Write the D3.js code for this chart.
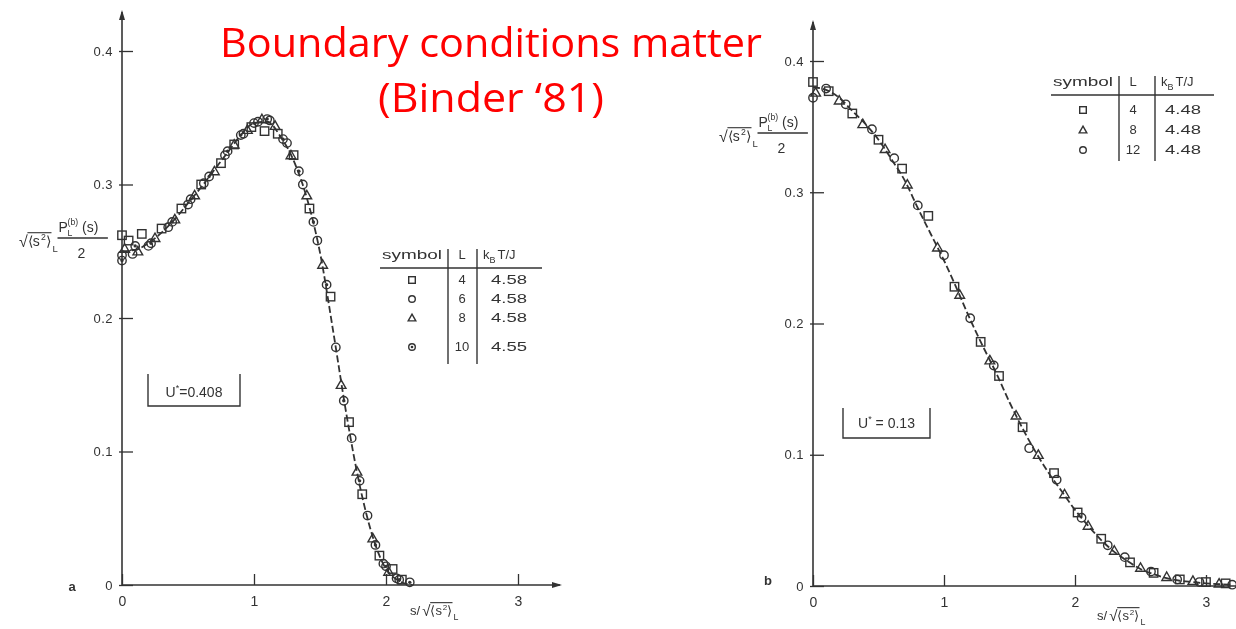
<!DOCTYPE html>
<html>
<head>
<meta charset="utf-8">
<script src="https://cdn.jsdelivr.net/npm/d3@7/dist/d3.min.js"></script>
<style>
  html, body { margin: 0; padding: 0; background: #fff; }
  svg { display: block; }
  .fig text { font-family: "Liberation Sans Narrow", "Liberation Sans", Arial, sans-serif; fill: #333; }
</style>
</head>
<body>
<script>
// ---------- data ----------
const xTicks = [0, 1, 2, 3];
const yTicks = [0, 0.1, 0.2, 0.3, 0.4];

// panel a: U* = 0.408 (kT/J near 4.58)
const curveA_s = [0, 0.1, 0.2, 0.3, 0.4, 0.5, 0.6, 0.7, 0.8, 0.9, 1.0, 1.1, 1.2, 1.3, 1.4, 1.5, 1.6, 1.7, 1.8, 1.9, 2.0, 2.1, 2.2];
const curveA_p = [0.250, 0.251, 0.256, 0.264, 0.274, 0.286, 0.298, 0.311, 0.324, 0.337, 0.346, 0.347, 0.336, 0.318, 0.290, 0.249, 0.190, 0.128, 0.075, 0.036, 0.012, 0.003, 0.000];

const a_L4 = [[0.0,0.262],[0.05,0.258],[0.15,0.263],[0.3,0.267],[0.45,0.282],[0.6,0.300],[0.75,0.316],[0.85,0.330],[0.98,0.343],[1.08,0.340],[1.18,0.338],[1.3,0.322],[1.42,0.282],[1.58,0.216],[1.72,0.122],[1.82,0.068],[1.95,0.022],[2.05,0.012],[2.12,0.004]];
const a_L6 = [[0.0,0.247],[0.08,0.248],[0.2,0.254],[0.35,0.268],[0.5,0.285],[0.62,0.301],[0.78,0.322],[0.92,0.338],[1.03,0.347],[1.12,0.348],[1.25,0.331],[1.37,0.300],[1.48,0.258],[1.62,0.178],[1.74,0.110],[1.86,0.052],[1.98,0.016],[2.08,0.005]];
const a_L8 = [[0.02,0.252],[0.12,0.250],[0.25,0.260],[0.4,0.274],[0.55,0.292],[0.7,0.310],[0.85,0.330],[0.95,0.341],[1.06,0.349],[1.16,0.344],[1.28,0.322],[1.4,0.292],[1.52,0.240],[1.66,0.150],[1.78,0.085],[1.9,0.035],[2.02,0.010]];
const a_L10 = [[0.0,0.243],[0.1,0.254],[0.22,0.256],[0.38,0.272],[0.52,0.289],[0.66,0.306],[0.8,0.325],[0.9,0.337],[1.0,0.346],[1.1,0.349],[1.22,0.334],[1.34,0.310],[1.45,0.272],[1.55,0.225],[1.68,0.138],[1.8,0.078],[1.92,0.030],[2.0,0.014],[2.1,0.004],[2.18,0.002]];

// panel b: U* = 0.13 (kT/J = 4.48)
const curveB_s = [0, 0.1, 0.2, 0.3, 0.4, 0.5, 0.6, 0.7, 0.8, 0.9, 1.0, 1.1, 1.2, 1.3, 1.4, 1.5, 1.6, 1.7, 1.8, 1.9, 2.0, 2.1, 2.2, 2.3, 2.4, 2.5, 2.6, 2.7, 2.8, 2.9, 3.0, 3.2];
const curveB_p = [0.380, 0.378, 0.372, 0.362, 0.352, 0.340, 0.325, 0.309, 0.288, 0.268, 0.248, 0.226, 0.203, 0.182, 0.162, 0.140, 0.120, 0.102, 0.086, 0.072, 0.058, 0.046, 0.035, 0.026, 0.019, 0.013, 0.009, 0.006, 0.004, 0.003, 0.002, 0.001];

const b_L4 = [[0.0,0.384],[0.12,0.377],[0.3,0.360],[0.5,0.340],[0.68,0.318],[0.88,0.282],[1.08,0.228],[1.28,0.186],[1.42,0.160],[1.6,0.121],[1.84,0.086],[2.02,0.056],[2.2,0.036],[2.42,0.018],[2.6,0.010],[2.8,0.005],[3.0,0.003],[3.15,0.002]];
const b_L8 = [[0.02,0.376],[0.2,0.370],[0.38,0.352],[0.55,0.333],[0.72,0.306],[0.95,0.258],[1.12,0.222],[1.35,0.172],[1.55,0.130],[1.72,0.100],[1.92,0.070],[2.1,0.046],[2.3,0.027],[2.5,0.014],[2.7,0.007],[2.9,0.004],[3.1,0.002]];
const b_L12 = [[0.0,0.372],[0.1,0.379],[0.25,0.367],[0.45,0.348],[0.62,0.326],[0.8,0.290],[1.0,0.252],[1.2,0.204],[1.38,0.168],[1.65,0.105],[1.86,0.081],[2.05,0.052],[2.25,0.031],[2.38,0.022],[2.58,0.011],[2.78,0.005],[2.95,0.003],[3.2,0.001]];

const legendA = [["square","4","4.58"],["circle","6","4.58"],["triangle","8","4.58"],["dot","10","4.55"]];
const legendB = [["square","4","4.48"],["triangle","8","4.48"],["circle","12","4.48"]];

const titleLines = ["Boundary conditions matter", "(Binder \u201881)"];

// ---------- drawing ----------
const W = 1236, H = 629;
const ink = "#333";
const svg = d3.select("body").append("svg").attr("width", W).attr("height", H);

const defs = svg.append("defs");
defs.append("filter").attr("id", "soft").append("feGaussianBlur").attr("stdDeviation", 0.6);

const fig = svg.append("g").attr("class", "fig").attr("filter", "url(#soft)");

function marker(g, kind, cx, cy, r) {
  if (kind === "square") {
    g.append("rect").attr("x", cx - r).attr("y", cy - r).attr("width", 2 * r).attr("height", 2 * r)
      .attr("fill", "none").attr("stroke", ink).attr("stroke-width", 1.4);
  } else if (kind === "circle") {
    g.append("circle").attr("cx", cx).attr("cy", cy).attr("r", r)
      .attr("fill", "none").attr("stroke", ink).attr("stroke-width", 1.4);
  } else if (kind === "triangle") {
    const h = r * 1.15;
    g.append("path").attr("d", `M${cx},${cy - h}L${cx + h},${cy + h * 0.75}L${cx - h},${cy + h * 0.75}Z`)
      .attr("fill", "none").attr("stroke", ink).attr("stroke-width", 1.4);
  } else if (kind === "dot") {
    g.append("circle").attr("cx", cx).attr("cy", cy).attr("r", r)
      .attr("fill", "none").attr("stroke", ink).attr("stroke-width", 1.4);
    g.append("circle").attr("cx", cx).attr("cy", cy).attr("r", r * 0.4).attr("fill", ink);
  }
}

function txt(g, x, y, s, size, anchor, len) {
  const t = g.append("text").attr("x", x).attr("y", y).attr("font-size", size)
    .attr("text-anchor", anchor || "start").text(s);
  if (len) t.attr("textLength", len).attr("lengthAdjust", "spacingAndGlyphs");
  return t;
}

// sqrt(<s^2>)_L with an overbar; x = left edge, y = baseline; returns right edge
function rootS2(g, x, y, size) {
  txt(g, x, y + 1, "\u221A", size + 2);
  const bx = x + size * 0.62;
  txt(g, bx, y, "\u27E8s", size);
  txt(g, bx + size * 0.95, y - size * 0.42, "2", size * 0.62);
  txt(g, bx + size * 1.3, y, "\u27E9", size);
  const w = size * 1.7;
  g.append("line").attr("x1", x + size * 0.6).attr("x2", bx + w)
    .attr("y1", y - size * 0.95).attr("y2", y - size * 0.95).attr("stroke", ink).attr("stroke-width", 1.1);
  txt(g, bx + w + 1, y + size * 0.42, "L", size * 0.68);
  return bx + w + size * 0.7;
}

// sqrt(<s^2>)_L * P_L^(b)(s) / 2 ; x = left edge, yl = fraction bar
function yTitle(g, x, yl, size) {
  rootS2(g, x, yl + 8, size);
  const nx = x + size * 2.75;
  txt(g, nx + 1, yl - 6, "P", size);
  txt(g, nx + size * 0.72, yl - 13, "(b)", size * 0.62);
  txt(g, nx + size * 0.72, yl - 2, "L", size * 0.62);
  txt(g, nx + size * 1.75, yl - 6, "(s)", size);
  g.append("line").attr("x1", nx).attr("x2", nx + size * 3.6).attr("y1", yl).attr("y2", yl)
    .attr("stroke", ink).attr("stroke-width", 1.3);
  txt(g, nx + size * 1.7, yl + 20, "2", size, "middle");
}

function xTitle(g, x, y, size) {
  txt(g, x, y, "s/", size);
  rootS2(g, x + size * 0.95, y, size);
}

function panel(cfg) {
  const g = fig.append("g");
  const x = d3.scaleLinear().domain([0, 3]).range(cfg.xr);
  const y = d3.scaleLinear().domain([0, 0.4]).range(cfg.yr);

  // y axis
  const ya = g.append("g").attr("transform", `translate(${x(0)},0)`)
    .call(d3.axisLeft(y).tickValues(yTicks).tickSize(-11).tickPadding(9)
      .tickFormat(d => d === 0 ? "0" : d3.format(".1f")(d)));
  ya.select(".domain").remove();
  ya.selectAll(".tick line").attr("x1", -3).attr("stroke", ink).attr("stroke-width", 1.3);
  ya.selectAll(".tick text").attr("font-size", 13).attr("fill", ink)
    .attr("font-family", "'Liberation Sans', Arial, sans-serif").attr("letter-spacing", 0.5);

  // x axis
  const xa = g.append("g").attr("transform", `translate(0,${y(0)})`)
    .call(d3.axisBottom(x).tickValues(xTicks).tickSize(-11).tickPadding(11).tickFormat(d3.format("d")));
  xa.select(".domain").remove();
  xa.selectAll(".tick line").attr("stroke", ink).attr("stroke-width", 1.3);
  xa.selectAll(".tick text").attr("font-size", 14).attr("fill", ink)
    .attr("font-family", "'Liberation Sans', Arial, sans-serif");

  // axis lines with arrow heads
  g.append("line").attr("x1", x(0)).attr("x2", x(0)).attr("y1", y(0)).attr("y2", cfg.yTop)
    .attr("stroke", ink).attr("stroke-width", 1.6);
  g.append("path").attr("d", `M${x(0)},${cfg.yTop - 2}l-3,10l6,0Z`).attr("fill", ink);
  g.append("line").attr("x1", x(0)).attr("x2", cfg.xEnd).attr("y1", y(0)).attr("y2", y(0))
    .attr("stroke", ink).attr("stroke-width", 1.6);
  if (cfg.xArrow) g.append("path").attr("d", `M${cfg.xEnd + 2},${y(0)}l-10,-3l0,6Z`).attr("fill", ink);

  // dashed master curve
  const pts = cfg.cs.map((s, i) => [s, cfg.cp[i]]);
  g.append("path").datum(pts)
    .attr("d", d3.line().x(d => x(d[0])).y(d => y(d[1])).curve(d3.curveMonotoneX))
    .attr("fill", "none").attr("stroke", ink).attr("stroke-width", 1.8).attr("stroke-dasharray", "7,3");

  // data symbols
  cfg.series.forEach(([kind, data]) => {
    data.forEach(d => marker(g, kind, x(d[0]), y(d[1]), 4.2));
  });

  // panel letter
  txt(g, cfg.letter[1], cfg.letter[2], cfg.letter[0], 13, "middle").attr("font-weight", "bold");

  // U* box
  const bx = cfg.ubox;
  g.append("path").attr("d", `M${bx[0]},${bx[1]}V${bx[3]}H${bx[2]}V${bx[1]}`)
    .attr("fill", "none").attr("stroke", ink).attr("stroke-width", 1.4);
  const ut = g.append("text").attr("x", (bx[0] + bx[2]) / 2).attr("y", bx[4]).attr("font-size", 14)
    .attr("text-anchor", "middle");
  ut.append("tspan").text("U");
  ut.append("tspan").attr("font-size", 9).attr("dy", -6).text("*");
  ut.append("tspan").attr("dy", 6).text(cfg.utext);

  // legend table
  const L = cfg.legend;
  const lg = g.append("g");
  txt(lg, L.sym - 30, L.head, "symbol", 13, "start", 60);
  txt(lg, L.lx, L.head, "L", 13, "middle");
  const kt = lg.append("text").attr("x", L.v1 + 6).attr("y", L.head).attr("font-size", 13);
  kt.append("tspan").text("k");
  kt.append("tspan").attr("font-size", 9).attr("dy", 4).text("B");
  kt.append("tspan").attr("dy", -4).attr("dx", 2).text("T/J");
  lg.append("line").attr("x1", L.sym - 32).attr("x2", L.right).attr("y1", L.head + 9).attr("y2", L.head + 9)
    .attr("stroke", ink).attr("stroke-width", 1.5);
  lg.append("line").attr("x1", L.v0).attr("x2", L.v0).attr("y1", L.head - 10).attr("y2", L.bottom)
    .attr("stroke", ink).attr("stroke-width", 1.4);
  lg.append("line").attr("x1", L.v1).attr("x2", L.v1).attr("y1", L.head - 10).attr("y2", L.bottom)
    .attr("stroke", ink).attr("stroke-width", 1.4);
  L.rows.forEach((r, i) => {
    const yy = L.rowY[i];
    marker(lg, r[0], L.sym, yy - 4, 3.3);
    txt(lg, L.lx, yy, r[1], 13, "middle");
    txt(lg, L.vx, yy, r[2], 13, "middle", 36);
  });

  // axis titles
  yTitle(g, cfg.yTitle[0], cfg.yTitle[1], 14);
  xTitle(g, cfg.xTitle[0], cfg.xTitle[1], 13);
}

panel({
  xr: [122, 518], yr: [585, 51], yTop: 12, xEnd: 560, xArrow: true,
  cs: curveA_s, cp: curveA_p,
  series: [["square", a_L4], ["circle", a_L6], ["triangle", a_L8], ["dot", a_L10]],
  letter: ["a", 72, 591],
  ubox: [148, 374, 240, 406, 397], utext: "=0.408",
  legend: { sym: 412, v0: 448, lx: 462, v1: 477, vx: 509, right: 542, head: 259,
            rowY: [284, 303, 322, 351], bottom: 364, rows: legendA },
  yTitle: [19, 238], xTitle: [410, 615]
});

panel({
  xr: [813, 1206], yr: [586, 61], yTop: 22, xEnd: 1236, xArrow: false,
  cs: curveB_s, cp: curveB_p,
  series: [["square", b_L4], ["triangle", b_L8], ["circle", b_L12]],
  letter: ["b", 768, 585],
  ubox: [843, 408, 930, 438, 428], utext: " = 0.13",
  legend: { sym: 1083, v0: 1119, lx: 1133, v1: 1155, vx: 1183, right: 1214, head: 86,
            rowY: [114, 134, 154], bottom: 161, rows: legendB },
  yTitle: [719, 133], xTitle: [1097, 620]
});

// red heading
const head = svg.append("g");
head.append("text").attr("x", 491).attr("y", 57).attr("text-anchor", "middle")
  .attr("font-family", "'Open Sans', 'Liberation Sans', Arial, sans-serif").attr("font-size", 40)
  .attr("fill", "#ff0000").attr("textLength", 542).attr("lengthAdjust", "spacingAndGlyphs")
  .text(titleLines[0]);
head.append("text").attr("x", 491).attr("y", 112).attr("text-anchor", "middle")
  .attr("font-family", "'Open Sans', 'Liberation Sans', Arial, sans-serif").attr("font-size", 40)
  .attr("fill", "#ff0000").attr("textLength", 226).attr("lengthAdjust", "spacingAndGlyphs")
  .text(titleLines[1]);
</script>
</body>
</html>
